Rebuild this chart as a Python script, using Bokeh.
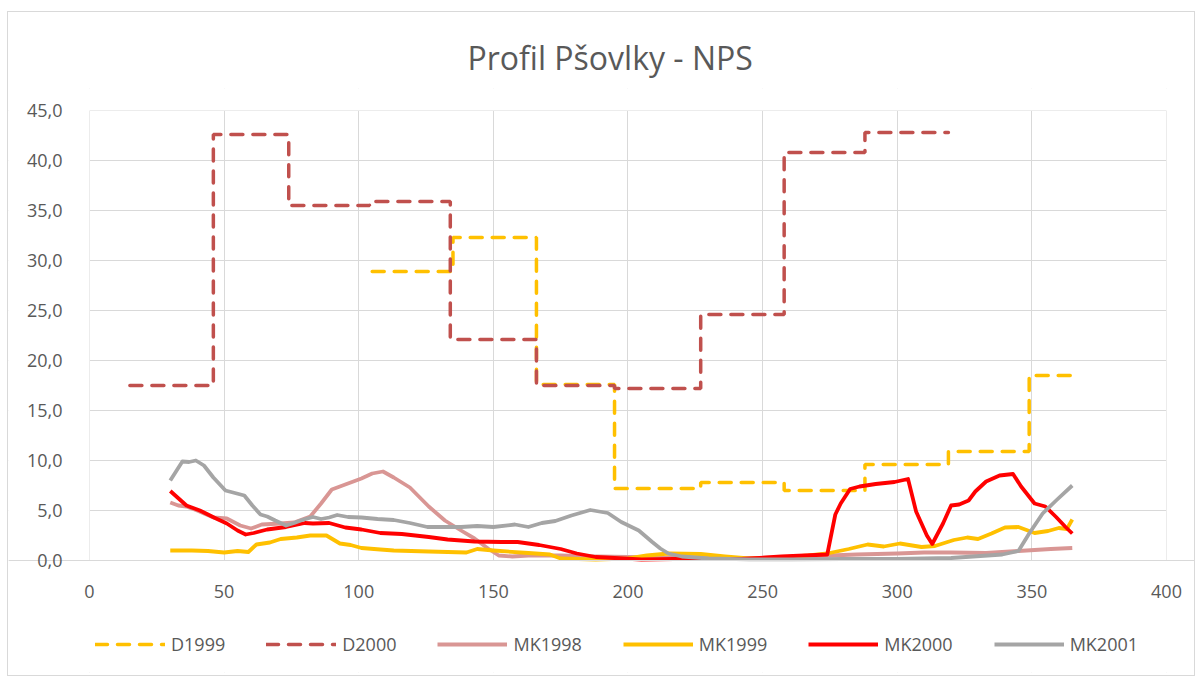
from bokeh.plotting import figure
from bokeh.models import (Range1d, FixedTicker, CustomJSTickFormatter,
                          Legend, LegendItem, BoxAnnotation)
from bokeh.embed import file_html
from bokeh.resources import INLINE

# ---------------- data ----------------
# monthly step series (value holds from x[i] to x[i+1])
d1999_x = [105, 135, 166, 195, 227, 258, 288, 319, 349, 365]
d1999_y = [28.9, 32.3, 17.6, 7.2, 7.8, 7.0, 9.6, 10.9, 18.5, 18.5]

d2000_x = [15, 46, 74, 104, 134, 166, 195, 227, 258, 288, 319]
d2000_y = [17.5, 42.6, 35.5, 35.9, 22.1, 17.5, 17.2, 24.6, 40.8, 42.8, 42.8]

mk1998_x = [30, 33, 36, 40, 46, 51, 56, 60, 64, 71, 76, 82, 86, 90, 95, 101, 105, 109,
            113, 119, 126, 132, 138, 143, 148, 152, 157, 163, 175, 188, 200, 212, 225,
            240, 255, 270, 285, 300, 310, 320, 333, 345, 357, 365]
mk1998_y = [5.8, 5.5, 5.4, 5.0, 4.3, 4.2, 3.5, 3.2, 3.6, 3.7, 3.8, 4.4, 5.7, 7.1, 7.6, 8.2,
            8.7, 8.9, 8.3, 7.3, 5.4, 4.0, 3.0, 2.2, 1.2, 0.5, 0.4, 0.5, 0.5, 0.4, 0.35, 0.3,
            0.25, 0.2, 0.3, 0.45, 0.6, 0.7, 0.8, 0.8, 0.75, 0.95, 1.15, 1.25]

mk1999_x = [30, 38, 44, 50, 55, 59, 62, 67, 71, 77, 82, 88, 93, 97, 101, 108, 113, 126,
            140, 144, 150, 163, 171, 175, 188, 200, 207, 215, 227, 236, 245, 255, 267,
            274, 282, 289, 295, 301, 309, 314, 321, 326, 330, 335, 340, 345, 351, 356,
            360, 363, 365]
mk1999_y = [1.0, 1.0, 0.95, 0.8, 0.95, 0.85, 1.6, 1.8, 2.15, 2.3, 2.5, 2.5, 1.7, 1.55,
            1.25, 1.1, 1.0, 0.9, 0.8, 1.15, 1.0, 0.75, 0.6, 0.2, 0.1, 0.2, 0.5, 0.7, 0.65,
            0.4, 0.2, 0.25, 0.5, 0.7, 1.15, 1.6, 1.4, 1.7, 1.35, 1.45, 2.05, 2.3, 2.15,
            2.7, 3.3, 3.35, 2.75, 2.95, 3.25, 3.15, 4.1]

mk2000_x = [30, 36, 41, 47, 51, 55, 58, 61, 66, 73, 80, 83, 89, 95, 101, 108, 116, 126,
            133, 143, 153, 159, 167, 175, 181, 188, 195, 205, 217, 242, 257, 274, 277,
            279, 282.5, 286, 292, 299, 304, 307, 309, 311, 313, 317, 320, 323, 326.5,
            329, 333, 338, 343, 346, 351, 355, 359, 362.5, 365]
mk2000_y = [6.95, 5.5, 5.0, 4.2, 3.7, 3.0, 2.6, 2.75, 3.1, 3.35, 3.75, 3.7, 3.75, 3.3,
            3.1, 2.75, 2.65, 2.35, 2.1, 1.9, 1.85, 1.85, 1.55, 1.15, 0.7, 0.35, 0.25, 0.1,
            0.15, 0.15, 0.4, 0.6, 4.6, 5.7, 7.15, 7.4, 7.65, 7.85, 8.15, 4.9, 3.7, 2.5,
            1.65, 3.7, 5.5, 5.6, 6.0, 6.9, 7.9, 8.5, 8.65, 7.4, 5.7, 5.4, 4.35, 3.35, 2.7]

mk2001_x = [30, 34.5, 37, 39.5, 42.5, 46, 50.5, 54, 57.5, 60.5, 63.5, 66, 69, 73, 76, 79,
            83, 86, 89, 92, 96, 101, 107, 113, 119, 125.5, 132, 138, 144, 150, 158, 163,
            168, 173, 179, 186, 192.5, 197.5, 204, 209, 212, 215, 220, 230, 245, 260, 280,
            300, 320, 339, 345, 349, 354, 359, 365]
mk2001_y = [8.0, 9.9, 9.85, 10.0, 9.5, 8.3, 7.0, 6.75, 6.5, 5.5, 4.6, 4.4, 4.0, 3.5, 3.75,
            4.05, 4.35, 4.15, 4.3, 4.55, 4.35, 4.3, 4.15, 4.05, 3.75, 3.35, 3.35, 3.35,
            3.45, 3.35, 3.6, 3.35, 3.75, 3.95, 4.5, 5.05, 4.75, 3.85, 3.0, 1.85, 1.2, 0.7,
            0.4, 0.2, 0.12, 0.12, 0.15, 0.17, 0.25, 0.6, 0.95, 2.7, 4.7, 6.0, 7.5]

x_ticks_interval = 50
x_axis_min, x_axis_max = 0, 400
y_axis_min, y_axis_max = 0, 45
y_tick_values = [0, 5, 10, 15, 20, 25, 30, 35, 40, 45]

# ---------------- figure ----------------
FONT = "Open Sans"
TXT = "#595959"
GRID = "#D9D9D9"

# The frame fills the whole canvas width and reaches above 45 and down under the
# legend, so that tick labels and legend are not clipped; the axes sit at x=0 / y=0
# and the scales put 0..400 and 0..45 exactly where the reference has them.
p = figure(width=1188, height=665, output_backend="svg", toolbar_location=None,
           x_range=Range1d(-30.08, 411.14), y_range=Range1d(-11.2, 47.2),
           min_border_left=0, min_border_right=0, min_border_top=76,
           min_border_bottom=5)
p.styles = {"border": "1px solid #D9D9D9", "margin-left": "7px", "margin-top": "11px"}
p.outline_line_color = None

p.title.text = "Profil Pšovlky - NPS"
p.title.align = "left"
p.title.offset = 459
p.title.text_font = FONT
p.title.text_font_size = "32px"
p.title.text_font_style = "normal"
p.title.text_color = TXT
p.title.standoff = 20

p.xaxis.ticker = FixedTicker(ticks=list(range(x_axis_min, x_axis_max + 1, x_ticks_interval)))
p.xaxis.fixed_location = y_axis_min
p.yaxis.ticker = FixedTicker(ticks=y_tick_values)
p.yaxis.fixed_location = x_axis_min
p.yaxis.formatter = CustomJSTickFormatter(code="return tick.toFixed(1).replace('.', ',');")
for ax in (p.xaxis, p.yaxis):
    ax.major_tick_line_color = None
    ax.minor_tick_line_color = None
    ax.major_label_text_font = FONT
    ax.major_label_text_font_size = "18px"
    ax.major_label_text_color = TXT
p.xaxis.axis_line_color = GRID
p.yaxis.axis_line_color = None
p.xaxis.major_label_standoff = 18
p.yaxis.major_label_standoff = 21
p.xgrid.grid_line_color = GRID
p.ygrid.grid_line_color = GRID

# white masks so that grid lines stay inside the 0..400 x 0..45 plot area
for kw in (dict(top=y_axis_min), dict(bottom=y_axis_max),
           dict(right=x_axis_min), dict(left=x_axis_max)):
    p.add_layout(BoxAnnotation(fill_color="white", fill_alpha=1, line_color=None,
                               level="underlay", **kw))

DASH = "12 10"
r_d99 = p.step(d1999_x, d1999_y, mode="after", line_color="#FFC000", line_width=3.5,
               line_dash=DASH, line_cap="round")
r_d00 = p.step(d2000_x, d2000_y, mode="after", line_color="#C0504D", line_width=3.5,
               line_dash=DASH, line_cap="round")
r_98 = p.line(mk1998_x, mk1998_y, line_color="#D99694", line_width=3.8, line_join="round")
r_99 = p.line(mk1999_x, mk1999_y, line_color="#FFC000", line_width=3.8, line_join="round")
r_00 = p.line(mk2000_x, mk2000_y, line_color="#FF0000", line_width=3.8, line_join="round")
r_01 = p.line(mk2001_x, mk2001_y, line_color="#A5A5A5", line_width=3.8, line_join="round")

legend = Legend(items=[
    LegendItem(label="D1999", renderers=[r_d99]),
    LegendItem(label="D2000", renderers=[r_d00]),
    LegendItem(label="MK1998", renderers=[r_98]),
    LegendItem(label="MK1999", renderers=[r_99]),
    LegendItem(label="MK2000", renderers=[r_00]),
    LegendItem(label="MK2001", renderers=[r_01]),
], orientation="horizontal", location=(87, 16), margin=0, padding=0,
    spacing=41, glyph_width=70, glyph_height=20, label_standoff=6,
    label_text_font=FONT, label_text_font_size="18px", label_text_color=TXT,
    border_line_color=None, background_fill_alpha=0)
p.add_layout(legend)

open("out.html", "w").write(file_html(p, INLINE))
